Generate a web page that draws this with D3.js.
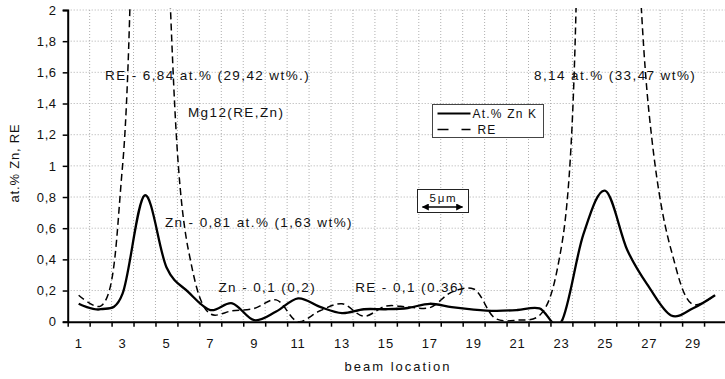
<!DOCTYPE html>
<html>
<head>
<meta charset="utf-8">
<script src="https://cdn.jsdelivr.net/npm/d3@7"></script>
<style>
  body { margin: 0; background: #fff; }
  text { font-family: "Liberation Sans", Arial, sans-serif; fill: #111; }
</style>
</head>
<body>
<svg id="chart"></svg>
<script>
// beam locations 1..30
var locations = d3.range(1, 31);

// at.% Zn K (solid line)
var znValues = [0.115, 0.08, 0.18, 0.81, 0.35, 0.19, 0.075, 0.118, 0.01, 0.065,
                0.15, 0.095, 0.055, 0.08, 0.08, 0.088, 0.115, 0.093, 0.078, 0.07,
                0.075, 0.086, 0.0, 0.56, 0.84, 0.46, 0.22, 0.04, 0.086, 0.17];

// RE (dashed line), peaks go far above the axis top
var reValues = [0.17, 0.1, 1.0, 6.84, 2.6, 0.46, 0.05, 0.07, 0.085, 0.14,
                0.0, 0.07, 0.115, 0.035, 0.1, 0.095, 0.09, 0.19, 0.21, 0.02,
                0.01, 0.04, 0.48, 4.0, 8.14, 4.3, 1.33, 0.46, 0.11, 0.17];

var yTickValues = [0, 0.2, 0.4, 0.6, 0.8, 1, 1.2, 1.4, 1.6, 1.8, 2];
var yTickLabels = ["0", "0,2", "0,4", "0,6", "0,8", "1", "1,2", "1,4", "1,6", "1,8", "2"];
var xTickLabels = [1, 3, 5, 7, 9, 11, 13, 15, 17, 19, 21, 23, 25, 27, 29];

var legendNames = ["At.% Zn K", "RE"];

// annotations: [text, location, value] (left edge / baseline)
var notes = [
  ["RE - 6,84 at.% (29,42 wt%.)", 2.2, 1.55],
  ["Mg12(RE,Zn)", 5.98, 1.315],
  ["Zn - 0,81 at.% (1,63 wt%)", 4.93, 0.61],
  ["Zn - 0,1 (0,2)", 7.37, 0.19],
  ["RE - 0,1 (0.36)", 13.6, 0.19],
  ["8,14 at.% (33,47 wt%)", 21.75, 1.55]
];

var svgWidth = 725, svgHeight = 379;
var plotLeft = 67.7, plotRight = 726, plotTop = 10, plotBottom = 321.7;

var svg = d3.select("#chart")
    .attr("width", svgWidth)
    .attr("height", svgHeight);

var xBand = d3.scaleBand()
    .domain(locations)
    .range([plotLeft, plotRight])
    .padding(0);

// linear version of the same axis, for boundaries and line points
var x = d3.scaleLinear()
    .domain([0.5, 30.5])
    .range([plotLeft, plotRight]);

var y = d3.scaleLinear()
    .domain([0, 2])
    .range([plotBottom, plotTop]);

// grid
var boundaries = d3.range(1.5, 30.5, 1);
svg.append("g").selectAll("line")
    .data(boundaries)
    .enter().append("line")
    .attr("x1", function(d) { return x(d); })
    .attr("x2", function(d) { return x(d); })
    .attr("y1", plotTop)
    .attr("y2", plotBottom)
    .attr("stroke", "#9a9a9a")
    .attr("stroke-width", 0.8)
    .attr("stroke-dasharray", "1,2");

svg.append("g").selectAll("line")
    .data(yTickValues.slice(1))
    .enter().append("line")
    .attr("x1", plotLeft)
    .attr("x2", plotRight)
    .attr("y1", function(d) { return y(d); })
    .attr("y2", function(d) { return y(d); })
    .attr("stroke", "#9a9a9a")
    .attr("stroke-width", 0.8)
    .attr("stroke-dasharray", "1,2");

// y axis
var yAxis = d3.axisLeft(y)
    .tickValues(yTickValues)
    .tickFormat(function(d, i) { return yTickLabels[i]; })
    .tickSize(5)
    .tickPadding(6);

var gy = svg.append("g")
    .attr("transform", "translate(" + plotLeft + ",0)")
    .call(yAxis);
gy.select(".domain").attr("stroke", "#000").attr("stroke-width", 2);
gy.selectAll(".tick line").attr("stroke", "#000").attr("stroke-width", 1.5);
gy.selectAll("text")
    .style("font-size", "13px")
    .style("letter-spacing", "0.6px")
    .attr("fill", "#222");

// x axis: tick marks on category boundaries, labels in the middle
var xMarks = d3.axisBottom(x)
    .tickValues(d3.range(0.5, 31, 1))
    .tickFormat("")
    .tickSize(5)
    .tickSizeOuter(0);

var gx = svg.append("g")
    .attr("transform", "translate(0," + plotBottom + ")")
    .call(xMarks);
gx.select(".domain").attr("stroke", "#000").attr("stroke-width", 2);
gx.selectAll(".tick line").attr("stroke", "#000").attr("stroke-width", 1.5);

var xLabels = d3.axisBottom(xBand)
    .tickValues(xTickLabels)
    .tickSize(0)
    .tickPadding(17);

var gxl = svg.append("g")
    .attr("transform", "translate(0," + plotBottom + ")")
    .call(xLabels);
gxl.select(".domain").remove();
gxl.selectAll("text")
    .style("font-size", "13px")
    .style("letter-spacing", "0.8px")
    .attr("fill", "#222");

// axis titles
svg.append("text")
    .attr("x", 398)
    .attr("y", 371)
    .attr("text-anchor", "middle")
    .style("font-size", "13px")
    .style("letter-spacing", "2px")
    .text("beam location");

svg.append("text")
    .attr("transform", "translate(19,163) rotate(-90)")
    .attr("text-anchor", "middle")
    .style("font-size", "13px")
    .style("letter-spacing", "0.8px")
    .text("at.% Zn, RE");

// lines
svg.append("clipPath")
    .attr("id", "plot-clip")
    .append("rect")
    .attr("x", plotLeft)
    .attr("y", plotTop - 2)
    .attr("width", plotRight - plotLeft)
    .attr("height", plotBottom - plotTop + 2);

var lineZn = d3.line()
    .x(function(d, i) { return x(locations[i]); })
    .y(function(d) { return y(d); })
    .curve(d3.curveCardinal.tension(0));

var lineRe = d3.line()
    .x(function(d, i) { return x(locations[i]); })
    .y(function(d) { return y(d); })
    .curve(d3.curveCatmullRom);

svg.append("path")
    .datum(reValues)
    .attr("clip-path", "url(#plot-clip)")
    .attr("fill", "none")
    .attr("stroke", "#000")
    .attr("stroke-width", 1.5)
    .attr("stroke-dasharray", "7,4")
    .attr("d", lineRe);

svg.append("path")
    .datum(znValues)
    .attr("clip-path", "url(#plot-clip)")
    .attr("fill", "none")
    .attr("stroke", "#000")
    .attr("stroke-width", 2.3)
    .attr("d", lineZn);

// annotations
svg.append("g").selectAll("text")
    .data(notes)
    .enter().append("text")
    .attr("x", function(d) { return x(d[1]); })
    .attr("y", function(d) { return y(d[2]); })
    .style("font-size", "13.5px")
    .style("letter-spacing", "1.4px")
    .text(function(d) { return d[0]; });

// legend
var legend = svg.append("g").attr("transform", "translate(432.5,104.5)");
legend.append("rect")
    .attr("width", 111)
    .attr("height", 33)
    .attr("fill", "#fff")
    .attr("stroke", "#444")
    .attr("stroke-width", 1);

var rows = legend.selectAll(".row")
    .data(legendNames)
    .enter().append("g")
    .attr("transform", function(d, i) { return "translate(0," + (9 + i * 16) + ")"; });

rows.append("line")
    .attr("x1", 5)
    .attr("x2", function(d, i) { return i === 0 ? 38 : 38; })
    .attr("stroke", "#000")
    .attr("stroke-width", function(d, i) { return i === 0 ? 1.8 : 1.3; })
    .attr("stroke-dasharray", function(d, i) { return i === 0 ? null : "11,13,9"; });

rows.append("text")
    .attr("x", function(d, i) { return i === 0 ? 40 : 45; })
    .attr("y", 4.5)
    .style("font-size", "12px")
    .style("letter-spacing", "1.2px")
    .text(function(d) { return d; });

// 5 um scale box
var scaleBox = svg.append("g").attr("transform", "translate(417.5,189.5)");
scaleBox.append("rect")
    .attr("width", 51)
    .attr("height", 23)
    .attr("fill", "#fff")
    .attr("stroke", "#222")
    .attr("stroke-width", 1);

scaleBox.append("text")
    .attr("x", 26)
    .attr("y", 12)
    .attr("text-anchor", "middle")
    .style("font-size", "11.5px")
    .style("letter-spacing", "1.8px")
    .text("5\u03bcm");

svg.append("defs").append("marker")
    .attr("id", "arrow")
    .attr("viewBox", "0 0 10 10")
    .attr("refX", 9)
    .attr("refY", 5)
    .attr("markerWidth", 6)
    .attr("markerHeight", 5)
    .attr("orient", "auto-start-reverse")
    .append("path")
    .attr("d", "M0,0 L10,5 L0,10 z")
    .attr("fill", "#000");

scaleBox.append("line")
    .attr("x1", 5)
    .attr("x2", 45)
    .attr("y1", 17.5)
    .attr("y2", 17.5)
    .attr("stroke", "#000")
    .attr("stroke-width", 1.4)
    .attr("marker-start", "url(#arrow)")
    .attr("marker-end", "url(#arrow)");
</script>
</body>
</html>
